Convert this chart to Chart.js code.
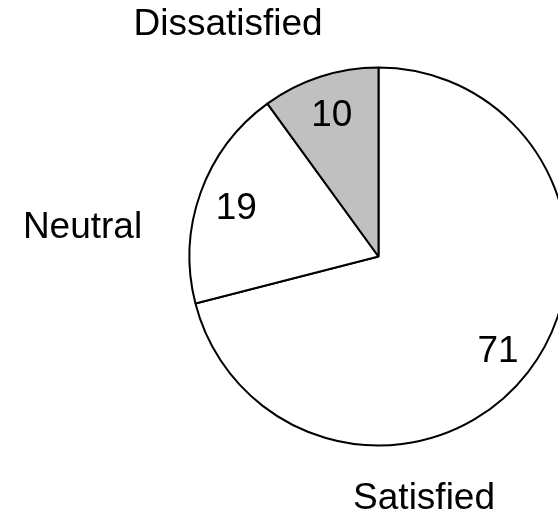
<!DOCTYPE html>
<html>
<head>
<meta charset="utf-8">
<script src="https://cdn.jsdelivr.net/npm/chart.js@4/dist/chart.umd.min.js"></script>
<style>
  html, body { margin: 0; padding: 0; background: #ffffff; }
  #c { display: block; }
</style>
</head>
<body>
<canvas id="c" width="558" height="513"></canvas>
<script>
// ---- data ----
const categories = ["Satisfied", "Neutral", "Dissatisfied"];
const values = [71, 19, 10];
const sliceColors = ["#ffffff", "#ffffff", "#c0c0c0"];

// label placement (relative to pie centre, in units of radius)
const outerLabelOffsets = [
  [0.241, 1.265],   // Satisfied
  [-1.566, -0.169], // Neutral
  [-0.796, -1.243]  // Dissatisfied
];
const FONT_SIZE = 37;
const FONT = FONT_SIZE + 'px "Liberation Sans", Arial, sans-serif';

const labelPlugin = {
  id: 'pieLabels',
  afterDatasetsDraw(chart) {
    const ctx = chart.ctx;
    const meta = chart.getDatasetMeta(0);
    ctx.save();
    ctx.font = FONT;
    ctx.fillStyle = '#000000';
    ctx.textAlign = 'center';
    ctx.textBaseline = 'alphabetic';
    const capHalf = FONT_SIZE * 0.358;
    meta.data.forEach((arc, i) => {
      const p = arc.getProps(['x', 'y', 'startAngle', 'endAngle', 'outerRadius'], true);
      const mid = (p.startAngle + p.endAngle) / 2;
      const r = p.outerRadius;
      // value inside slice
      const vx = p.x + Math.cos(mid) * r * 0.8;
      const vy = p.y + Math.sin(mid) * r * 0.8;
      ctx.fillText(String(chart.data.datasets[0].data[i]), vx, vy + capHalf);
      // category label outside
      const off = outerLabelOffsets[i];
      ctx.fillText(chart.data.labels[i], p.x + off[0] * r, p.y + off[1] * r + capHalf);
    });
    ctx.restore();
  }
};

new Chart(document.getElementById('c'), {
  type: 'pie',
  data: {
    labels: categories,
    datasets: [{
      data: values,
      backgroundColor: sliceColors,
      borderColor: '#000000',
      borderWidth: 2,
      clip: false
    }]
  },
  options: {
    responsive: false,
    animation: false,
    radius: 189,
    rotation: 0,
    layout: { padding: { left: 199, right: 0, top: 0, bottom: 0 } },
    plugins: {
      legend: { display: false },
      tooltip: { enabled: false },
      title: { display: false }
    }
  },
  plugins: [labelPlugin]
});
</script>
</body>
</html>
